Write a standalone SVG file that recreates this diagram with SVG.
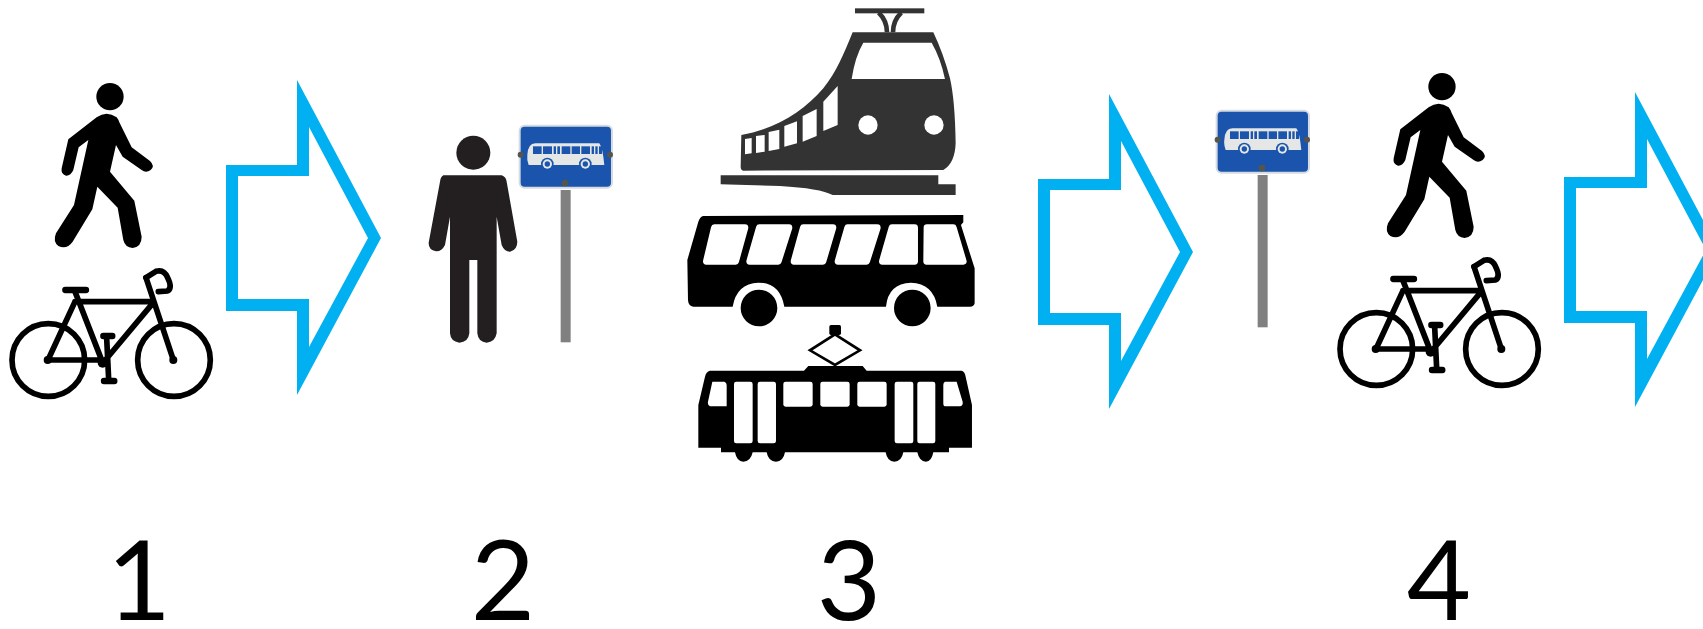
<svg xmlns="http://www.w3.org/2000/svg" width="1703" height="629" viewBox="0 0 1703 629">
<style>
.num{font-family:"Lato","Noto Sans",sans-serif;font-size:111px;fill:#000;text-anchor:middle}
.arrow{fill:#00b0f0;fill-rule:evenodd}
.bk{stroke:#000;stroke-width:17;fill:none;stroke-linecap:round;stroke-linejoin:round}
.ww{fill:#fff;stroke:#fff;stroke-width:20;stroke-linejoin:round}
.bw{fill:#fff}
.sb{fill:#1a54ad}
</style>
<defs>
<path id="arrowShape" class="arrow" d="M226,165H297V80L381,238L297,395V311H226ZM238,176V299H309V347L368,238L309,127V176Z"/>
<g id="walker" transform="translate(0,60) scale(.3333)">
<circle cx="330" cy="110" r="41"/>
<path d="M290,172Q320,150 350,172Q355,178 358,187L395,262L450,303Q466,318 452,330Q438,340 425,330L368,290L348,255L330,335L403,422L425,530Q425,560 398,564Q375,562 370,540L353,443L292,380L277,448L218,545Q200,570 175,558Q158,545 168,520L222,435L265,240L236,262L220,330Q212,348 198,347Q182,342 185,325L205,238Z"/>
</g>
<g id="bike" transform="translate(0,61) scale(.3333)">
<circle class="bk" cx="145" cy="897" r="109"/>
<circle class="bk" cx="522" cy="897" r="109"/>
<path class="bk" style="stroke-width:19" d="M196,687H258M310,825H337M312,960H343"/>
<path class="bk" d="M225,692L308,905M225,722H458M460,725L318,895M145,897H310M225,722L145,895M438,650L520,897M320,830L326,955"/>
<path class="bk" d="M438,650L468,631Q492,624 503,650Q518,680 503,690L475,692"/>
<circle cx="308" cy="905" r="15"/>
<circle cx="520" cy="897" r="12"/>
<circle cx="143" cy="897" r="12"/>
</g>
<g id="signPost" transform="translate(410,110) scale(.3333)">
<rect x="452" y="240" width="30" height="457" fill="#808080"/>
<rect x="329" y="47" width="277" height="186" rx="15" class="sb" stroke="#d5dbe0" stroke-width="6"/>
<path d="M352,135Q354,100 376,100L568,100Q578,112 583,165L356,165Q350,150 352,135Z" fill="#e4e7e5"/>
<g class="sb"><rect x="369" y="109" width="26" height="23"/><rect x="399" y="109" width="27" height="23"/><rect x="431" y="109" width="7" height="23"/><rect x="442" y="109" width="8" height="23"/><rect x="455" y="109" width="26" height="23"/><rect x="485" y="109" width="25" height="23"/><rect x="514" y="109" width="26" height="23"/><rect x="545" y="109" width="7" height="23"/><rect x="556" y="109" width="7" height="23"/><rect x="567" y="109" width="9" height="23"/>
<circle cx="412" cy="162" r="19"/><circle cx="526" cy="162" r="19"/></g>
<circle cx="412" cy="162" r="14" fill="#e4e7e5"/><circle cx="526" cy="162" r="14" fill="#e4e7e5"/>
<circle cx="412" cy="162" r="8" class="sb"/><circle cx="526" cy="162" r="8" class="sb"/>
<g fill="#55554a"><circle cx="332" cy="134" r="9"/><circle cx="600" cy="134" r="9"/><circle cx="465" cy="219" r="10"/></g>
</g>
</defs>
<g id="connectors">
<use href="#arrowShape"/>
<use href="#arrowShape" x="812" y="14"/>
<use href="#arrowShape" x="1338" y="12"/>
</g>
<g id="node-1-walker"><use href="#walker"/></g>
<g id="node-1-bike"><use href="#bike"/></g>
<g id="node-2-person" transform="translate(410,110) scale(.3333)" fill="#231f20">
<circle cx="190" cy="128" r="51"/>
<path d="M100,196H275Q288,200 290,215L322,395Q322,420 300,425Q283,425 275,405L260,320V670Q255,697 230,698Q205,697 202,670V450H178V670Q175,697 148,698Q122,695 120,670V320L105,405Q95,425 78,424Q55,420 56,398L90,215Q92,200 100,196Z"/>
</g>
<g id="node-2-stop"><use href="#signPost"/></g>
<g id="node-3-train" transform="translate(680,0) scale(.3333)" fill="#333">
<rect x="525" y="25" width="208" height="15"/>
<path d="M596,38Q621,62 621,97M664,38Q639,62 639,97" fill="none" stroke="#333" stroke-width="14"/>
<path d="M518,97H760Q790,160 810,235Q825,300 827,430Q825,490 790,510L190,512Q182,510 182,500L184,405C290,385 370,335 430,265C470,215 490,165 518,97Z"/>
<path class="bw" d="M550,128H755Q782,175 795,237H515Q525,170 550,128ZM430,305L473,258V375L430,393ZM368,348L410,327V408L368,425ZM313,378L351,364V430L313,440ZM266,396L298,389V447L266,453ZM228,408L254,405V455L228,459ZM195,417L215,414V460L195,463Z"/>
<circle class="bw" cx="564" cy="375" r="29"/><circle class="bw" cx="762" cy="375" r="29"/>
<path d="M122,526H775V553H827V585H458Q420,565 300,558L122,553Z"/>
</g>
<g id="node-3-bus" transform="translate(680,205) scale(.3333)">
<path d="M70,33L850,30V52L843,60L884,190V295Q882,305 870,305H772Q760,235 693,233Q625,235 618,305H313Q300,233 235,233Q170,235 158,305H40Q25,303 24,285L22,165L55,50Q60,35 70,33Z"/>
<circle cx="237" cy="309" r="55"/><circle cx="697" cy="309" r="55"/>
<path class="ww" d="M103,68H195L167,169H79ZM238,68H327L295,169H209ZM370,68H459L429,169H342ZM503,68H592L560,169H474ZM636,68H704V169H607ZM741,68H820L850,169H740Z"/>
</g>
<g id="node-3-tram" transform="translate(680,205) scale(.3333)">
<path d="M465,388L540,436L465,480L390,436Z" fill="none" stroke="#000" stroke-width="8"/>
<rect x="448" y="360" width="35" height="30" rx="5"/>
<path d="M90,497H372L385,483H548L560,497H845Q855,500 857,515L876,600V728H807V742H760Q755,770 738,770Q718,770 712,742H670Q665,770 643,770Q622,770 617,742H315Q310,770 288,770Q265,770 260,742H218Q212,770 190,770Q170,770 165,742H123V728H55V600L75,515Q78,500 90,497Z"/>
<g class="bw"><rect x="162" y="530" width="56" height="185" rx="7"/><rect x="233" y="530" width="55" height="185" rx="7"/><rect x="310" y="530" width="88" height="75" rx="7"/><rect x="421" y="530" width="88" height="75" rx="7"/><rect x="532" y="530" width="88" height="75" rx="7"/><rect x="644" y="530" width="56" height="185" rx="7"/><rect x="712" y="530" width="54" height="185" rx="7"/>
<path d="M97,530H133Q140,532 140,540V604H90Q82,600 84,590ZM795,530H830L848,590Q850,602 840,604H795Q790,604 790,595V540Q790,532 795,530Z"/></g>
</g>
<g id="node-4-stop"><use href="#signPost" x="697" y="-15"/></g>
<g id="node-4-walker"><use href="#walker" x="1332" y="-10"/></g>
<g id="node-4-bike"><use href="#bike" x="1328" y="-11"/></g>
<g id="labels">
<text class="num" x="139" y="620">1</text>
<text class="num" x="503" y="620">2</text>
<text class="num" x="849" y="620">3</text>
<text class="num" x="1439" y="620">4</text>
</g>
</svg>
